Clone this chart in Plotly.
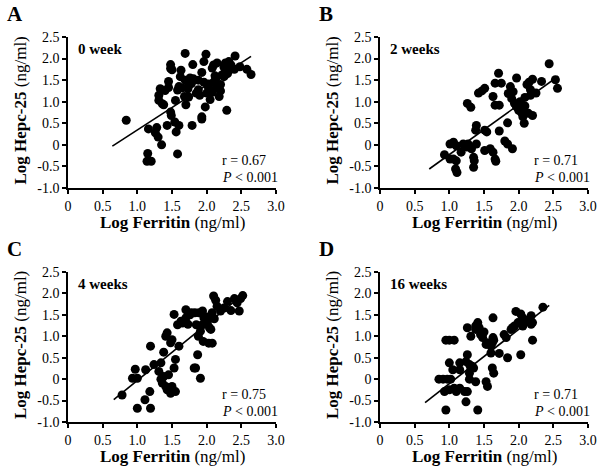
import plotly.graph_objects as go

# ---- data ----
a_x = [0.84, 1.69, 1.99, 2.41, 1.48, 1.48, 1.50, 1.63, 1.80, 1.96, 2.10, 2.08, 2.27, 2.32, 2.48, 2.58,
       2.64, 2.25, 2.32, 1.45, 1.33, 1.40, 1.45, 1.60, 1.58, 1.55, 1.73, 1.74, 1.78, 1.79, 1.81, 1.69,
       1.74, 1.88, 1.93, 1.96, 2.03, 2.10, 2.15, 2.08, 2.20, 2.18, 2.30, 2.25, 2.12, 2.05, 1.88, 2.02,
       1.93, 1.93, 2.29, 1.31, 1.31, 1.36, 1.48, 1.49, 1.54, 1.43, 1.60, 1.56, 1.16, 1.28, 1.26, 1.30,
       1.35, 1.79, 1.15, 1.14, 1.20, 1.58, 2.00, 2.15, 2.22, 1.85, 1.65, 1.90, 2.35, 2.40, 2.05, 1.70,
       1.62, 1.98, 2.13, 2.20, 1.38, 1.68, 1.76]
a_y = [0.57, 2.12, 2.10, 2.06, 1.86, 1.77, 1.74, 1.73, 1.86, 1.93, 1.85, 1.78, 1.90, 1.93, 1.81, 1.75,
       1.63, 1.80, 1.72, 1.47, 1.30, 1.26, 1.33, 1.35, 1.27, 1.03, 1.30, 1.37, 1.42, 1.48, 1.53, 1.50,
       1.11, 1.50, 1.68, 1.45, 1.41, 1.45, 1.32, 1.22, 1.25, 1.12, 1.65, 1.58, 1.60, 1.28, 1.28, 1.35,
       0.65, 0.60, 0.80, 1.15, 1.03, 0.95, 0.76, 0.68, 0.53, 0.45, 0.45, 0.30, 0.37, 0.40, 0.28, 0.18,
       0.00, 0.45, -0.20, -0.38, -0.38, -0.21, 1.20, 1.90, 1.62, 1.20, 1.32, 1.15, 1.85, 1.75, 1.05, 0.93,
       1.58, 0.88, 1.52, 1.40, 0.93, 1.12, 1.55]
a_fit_x = [0.64, 2.64]
a_fit_y = [-0.03, 2.05]

b_x = [0.93, 1.01, 1.06, 1.10, 1.01, 1.06, 1.10, 1.09, 1.11, 1.17, 1.20, 1.25, 1.27, 1.32, 1.39, 1.35,
       1.36, 1.35, 1.38, 1.39, 1.26, 1.31, 1.42, 1.47, 1.51, 1.51, 1.54, 1.51, 1.59, 1.63, 1.66, 1.67,
       1.63, 1.66, 1.72, 1.66, 1.71, 1.75, 1.72, 1.80, 1.84, 1.91, 1.84, 1.85, 1.88, 1.92, 1.97, 1.90,
       1.94, 1.97, 2.02, 2.04, 2.07, 2.06, 2.09, 2.08, 2.14, 2.17, 2.17, 2.12, 2.20, 2.20, 2.09, 2.00,
       2.33, 2.44, 2.53, 2.56, 2.15, 2.05, 1.95, 2.25]
b_y = [-0.23, 0.02, 0.06, -0.02, -0.33, -0.33, -0.37, -0.56, -0.64, -0.17, 0.02, -0.05, 0.02, -0.09,
       0.02, -0.29, -0.37, -0.52, 0.34, 0.45, 0.96, 0.87, 1.20, 1.25, 1.31, 0.34, 0.30, -0.13, -0.09,
       -0.17, -0.33, -0.38, 1.12, 0.92, 0.92, 1.43, 1.66, 1.43, 0.32, 0.09, 0.02, -0.09, 0.51, 1.19,
       1.35, 1.23, 1.55, 1.07, 0.96, 0.88, 1.00, 0.75, 0.80, 0.65, 1.10, 0.50, 0.73, 1.15, 1.28, 1.40,
       1.52, 0.68, 0.90, 0.80, 1.47, 1.88, 1.51, 1.31, 1.45, 0.75, 0.95, 1.20]
b_fit_x = [0.71, 2.57]
b_fit_y = [-0.56, 1.59]

c_x = [0.78, 1.00, 1.19, 1.11, 1.18, 0.97, 0.93, 1.00, 1.12, 1.24, 1.19, 1.34, 1.31, 1.34, 1.38, 1.36,
       1.41, 1.43, 1.48, 1.55, 1.50, 1.45, 1.53, 1.55, 1.38, 1.41, 1.43, 1.48, 1.50, 1.53, 1.58, 1.63,
       1.65, 1.70, 1.78, 1.83, 1.73, 1.85, 1.88, 1.95, 1.60, 1.82, 1.84, 1.91, 1.87, 1.89, 1.94, 1.96,
       1.94, 2.01, 2.06, 2.11, 2.08, 2.03, 2.08, 1.91, 2.10, 2.13, 2.20, 2.25, 2.30, 2.40, 2.44, 2.47,
       2.49, 2.52, 2.00, 2.04, 1.70, 1.76, 2.35, 2.15]
c_y = [-0.37, -0.68, -0.68, -0.48, -0.29, 0.23, 0.02, 0.02, 0.22, 0.34, 0.77, 0.38, 0.18, 0.00, 0.06,
       -0.09, -0.17, -0.25, -0.33, -0.29, -0.17, 0.10, 0.26, 0.46, 0.63, 1.00, 1.08, 0.85, 0.92, 1.51,
       1.27, 1.35, 1.31, 1.43, 1.55, 1.55, 1.28, 1.27, 1.00, 0.88, 0.77, 0.26, 0.26, 0.02, 0.57, 1.55,
       1.59, 1.43, 1.27, 1.31, 1.16, 1.41, 1.55, 0.84, 0.84, 1.12, 1.94, 1.84, 1.59, 1.66, 1.81, 1.88,
       1.78, 1.59, 1.88, 1.95, 1.45, 1.20, 1.62, 1.50, 1.60, 1.70]
c_fit_x = [0.66, 2.56]
c_fit_y = [-0.48, 2.02]

d_x = [0.95, 1.00, 1.07, 0.85, 0.91, 0.97, 1.02, 0.93, 0.95, 1.10, 1.00, 1.00, 1.05, 1.15, 1.15, 1.07,
       1.15, 1.22, 1.26, 1.26, 1.24, 1.29, 1.29, 1.31, 1.33, 1.35, 1.29, 1.38, 1.24, 1.41, 1.26, 1.31,
       1.38, 1.41, 1.43, 1.45, 1.48, 1.38, 1.53, 1.55, 1.60, 1.62, 1.64, 1.60, 1.62, 1.64, 1.53, 1.55,
       1.63, 1.63, 1.79, 1.82, 1.89, 1.91, 1.94, 1.84, 2.03, 1.99, 2.06, 2.06, 2.11, 2.18, 2.20, 2.20,
       1.96, 2.03, 2.18, 2.35, 1.72, 1.50]
d_y = [0.91, 0.91, 0.91, 0.00, 0.00, 0.00, 0.00, -0.29, -0.72, -0.29, -0.25, 0.38, 0.22, 0.22, 0.38,
       -0.21, -0.21, -0.29, -0.29, 0.57, 0.41, 0.34, 0.14, 0.26, 0.30, 0.26, 0.00, -0.06, -0.53, -0.72,
       1.20, 1.00, 1.16, 1.32, 1.20, 1.04, 0.97, 1.24, 0.81, 0.85, 0.77, 0.85, 0.91, 0.61, 0.26, 0.14,
       -0.06, -0.17, 1.43, 0.97, 1.04, 0.97, 1.16, 1.20, 1.24, 0.50, 0.57, 1.32, 1.43, 1.24, 1.36, 1.28,
       1.32, 0.91, 1.58, 1.52, 1.48, 1.68, 0.60, 1.10]
d_fit_x = [0.65, 2.44]
d_fit_y = [-0.55, 1.72]

panels = [
    ("A", "0 week", a_x, a_y, a_fit_x, a_fit_y, "r = 0.67"),
    ("B", "2 weeks", b_x, b_y, b_fit_x, b_fit_y, "r = 0.71"),
    ("C", "4 weeks", c_x, c_y, c_fit_x, c_fit_y, "r = 0.75"),
    ("D", "16 weeks", d_x, d_y, d_fit_x, d_fit_y, "r = 0.71"),
]

W, H = 600, 473
FONT = "Liberation Serif, Times New Roman, serif"
xdoms = [[68 / W, 276 / W], [380 / W, 588 / W]]
ydoms = [[(H - 188) / H, (H - 37) / H], [(H - 422) / H, (H - 272) / H]]

fig = go.Figure()
annotations = []
for i, (letter, week, xs, ys, fx, fy, rtxt) in enumerate(panels):
    row, col = divmod(i, 2)
    n = "" if i == 0 else str(i + 1)
    xa, ya = "x" + n, "y" + n
    fig.add_trace(go.Scatter(x=xs, y=ys, mode="markers", xaxis=xa, yaxis=ya,
                             marker=dict(color="black", size=9, line=dict(width=0)),
                             showlegend=False, cliponaxis=False))
    fig.add_trace(go.Scatter(x=fx, y=fy, mode="lines", xaxis=xa, yaxis=ya,
                             line=dict(color="black", width=1.6), showlegend=False))
    axis_common = dict(showline=True, linecolor="black", linewidth=1.5, ticks="outside",
                       tickwidth=1.5, ticklen=4, tickcolor="black", showgrid=False,
                       zeroline=False, mirror=False, automargin=False,
                       tickfont=dict(family=FONT, size=14, color="black"))
    fig.layout["xaxis" + n] = dict(domain=xdoms[col], range=[0, 3],
                                   tickvals=[0, 0.5, 1, 1.5, 2, 2.5, 3],
                                   ticktext=["0", "0.5", "1.0", "1.5", "2.0", "2.5", "3.0"],
                                   anchor=ya, **axis_common)
    fig.layout["yaxis" + n] = dict(domain=ydoms[row], range=[-1, 2.5],
                                   tickvals=[-1, -0.5, 0, 0.5, 1, 1.5, 2, 2.5],
                                   ticktext=["-1.0", "-0.5", "0", "0.5", "1.0", "1.5", "2.0", "2.5"],
                                   anchor=xa, **axis_common)
    x0 = xdoms[col][0] * W
    ytop = (1 - ydoms[row][1]) * H
    ybot = (1 - ydoms[row][0]) * H
    # panel letter
    annotations.append(dict(text="<b>%s</b>" % letter, xref="paper", yref="paper",
                            x=(x0 - 63) / W, y=1 - (ytop - 23) / H, xanchor="left", yanchor="middle",
                            showarrow=False, font=dict(family=FONT, size=21, color="black")))
    # week label
    annotations.append(dict(text="<b>%s</b>" % week, xref=xa + " domain", yref=ya + " domain",
                            x=0.04, y=0.99, xanchor="left", yanchor="top", showarrow=False,
                            font=dict(family=FONT, size=15, color="black")))
    # stats
    annotations.append(dict(text=rtxt, xref=xa, yref=ya, x=2.19, y=-0.36, xanchor="left",
                            yanchor="middle", showarrow=False,
                            font=dict(family=FONT, size=14, color="black")))
    annotations.append(dict(text="<i>P</i> < 0.001", xref=xa, yref=ya, x=2.19, y=-0.75,
                            xanchor="left", yanchor="middle", showarrow=False,
                            font=dict(family=FONT, size=14, color="black")))
    # axis titles
    annotations.append(dict(text="<b>Log Ferritin</b> (ng/ml)", xref="paper", yref="paper",
                            x=(x0 + 104) / W, y=1 - (ybot + 34) / H, xanchor="center",
                            yanchor="middle", showarrow=False,
                            font=dict(family=FONT, size=17, color="black")))
    annotations.append(dict(text="<b>Log Hepc-25</b> (ng/ml)", xref="paper", yref="paper",
                            x=(x0 - 48) / W, y=1 - ((ytop + ybot) / 2 - 2) / H, xanchor="center",
                            yanchor="middle", textangle=-90, showarrow=False,
                            font=dict(family=FONT, size=17, color="black")))

fig.update_layout(width=W, height=H, margin=dict(l=0, r=0, t=0, b=0),
                  paper_bgcolor="white", plot_bgcolor="white",
                  annotations=annotations, font=dict(family=FONT, color="black"))

# drop the default page margin so the figure sits at the window's top-left corner
fig.write_html("out.html", config={"displayModeBar": False},
               post_script="document.body.style.margin='0';")
